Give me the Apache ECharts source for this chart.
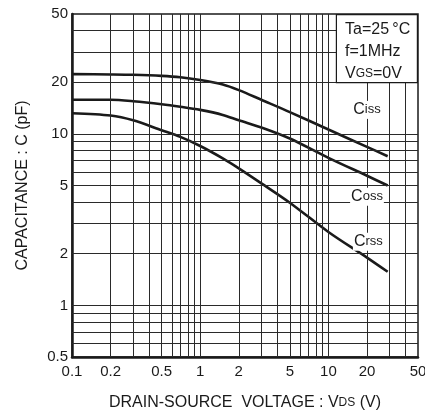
<!DOCTYPE html>
<html>
<head>
<meta charset="utf-8">
<script src="https://cdn.jsdelivr.net/npm/echarts@6/dist/echarts.min.js"></script>
<style>
  html, body { margin: 0; padding: 0; background: #fff; }
  #chart { width: 425px; height: 418px; }
</style>
</head>
<body>
<div id="chart"></div>
<script>
// drain-source voltage (V)
var voltage = [0.1, 0.2, 0.3, 0.5, 0.7, 1, 1.5, 2, 3, 5, 10, 20, 29];
// capacitances (pF)
var ciss = [22.3, 22.2, 22.1, 21.8, 21.4, 20.6, 19.4, 18.0, 15.8, 13.4, 10.6, 8.4, 7.4];
var coss = [15.8, 15.8, 15.5, 14.9, 14.4, 13.8, 12.9, 12.0, 10.9, 9.4, 7.25, 5.7, 5.0];
var crss = [13.2, 12.8, 12.0, 10.5, 9.6, 8.5, 7.2, 6.3, 5.15, 3.97, 2.68, 1.9, 1.57];

// grid lines and tick labels
var gridX = [0.2, 0.3, 0.4, 0.5, 0.6, 0.7, 0.8, 0.9, 1, 2, 3, 4, 5, 6, 7, 8, 9, 10, 20, 30, 40];
var gridY = [0.6, 0.7, 0.8, 0.9, 1, 2, 3, 4, 5, 6, 7, 8, 9, 10, 20, 30, 40];
var tickX = [0.1, 0.2, 0.5, 1, 2, 5, 10, 20, 50];
var tickY = [0.5, 1, 2, 5, 10, 20, 50];

// curve labels: [voltage, capacitance]
var labelCiss = [20, 13.8];
var labelCoss = [20, 4.3];
var labelCrss = [20.5, 2.35];

var FONT = 'Liberation Sans, Arial, sans-serif';
var INK = '#1a1a1a';

function pairs(xs, ys) {
  return xs.map(function(x, i) { return [x, ys[i]]; });
}

var gridLines = [];
gridX.forEach(function(v) { gridLines.push({ xAxis: v }); });
gridY.forEach(function(v) { gridLines.push({ yAxis: v }); });
// label-only lines (no visible stroke)
tickX.forEach(function(v) {
  gridLines.push({ xAxis: v, lineStyle: { width: 0, color: 'rgba(0,0,0,0)' },
    label: { show: true, position: 'start', distance: 7, formatter: String(v) } });
});
tickY.forEach(function(v) {
  gridLines.push({ yAxis: v, lineStyle: { width: 0, color: 'rgba(0,0,0,0)' },
    label: { show: true, position: 'start', distance: 4, formatter: String(v) } });
});

function curveLabel(pos, sub) {
  return {
    symbol: 'rect',
    symbolSize: 0,
    silent: true,
    data: [{ coord: pos }],
    label: {
      show: true,
      position: 'inside',
      formatter: '{c|C}{s|' + sub + '}',
      backgroundColor: '#fff',
      padding: [1, 1],
      rich: {
        c: { fontSize: 16, fontFamily: FONT, color: INK },
        s: { fontSize: 13, fontFamily: FONT, color: INK }
      }
    }
  };
}

function curve(name, ys, lbl, sub) {
  return {
    name: name,
    type: 'line',
    data: pairs(voltage, ys),
    smooth: 0.3,
    symbol: 'none',
    z: 3,
    lineStyle: { color: INK, width: 2.6 },
    markPoint: curveLabel(lbl, sub)
  };
}

var myChart = echarts.init(document.getElementById('chart'));

var option = {
  animation: false,
  textStyle: { fontFamily: FONT },
  grid: {
    left: 72, right: 7, top: 14, bottom: 61,
    show: true,
    borderColor: INK,
    borderWidth: 1.5
  },
  xAxis: {
    type: 'log',
    logBase: 10,
    min: 0.1,
    max: 50,
    name: 'DRAIN-SOURCE  VOLTAGE : V{s|DS} (V)',
    nameLocation: 'middle',
    nameGap: 38,
    nameTextStyle: {
      fontSize: 16, fontFamily: FONT, color: INK,
      rich: { s: { fontSize: 12, fontFamily: FONT, color: INK } }
    },
    axisLine: { show: true, lineStyle: { color: INK, width: 2.5 } },
    axisTick: { show: false },
    axisLabel: { show: false },
    splitLine: { show: false }
  },
  yAxis: {
    type: 'log',
    logBase: 10,
    min: 0.5,
    max: 50,
    name: 'CAPACITANCE : C (pF)',
    nameLocation: 'middle',
    nameGap: 41,
    nameTextStyle: { fontSize: 16, fontFamily: FONT, color: INK },
    axisLine: { show: true, lineStyle: { color: INK, width: 2.5 } },
    axisTick: { show: false },
    axisLabel: { show: false },
    splitLine: { show: false }
  },
  graphic: [{
    type: 'rect',
    right: 7,
    top: 14,
    z: 10,
    shape: { width: 81, height: 68 },
    style: { fill: '#fff', stroke: INK, lineWidth: 1.2 }
  }, {
    type: 'text',
    left: 345,
    top: 19,
    z: 11,
    style: {
      text: 'Ta=25\u2009°C\nf=1MHz\nV{s|GS}=0V',
      font: '16px ' + FONT,
      fill: INK,
      lineHeight: 22,
      rich: {
        s: { fontSize: 12, fontFamily: FONT, fill: INK, lineHeight: 22 }
      }
    }
  }],
  series: [{
    type: 'line',
    data: [],
    z: 1,
    silent: true,
    clip: false,
    markLine: {
      silent: true,
      symbol: ['none', 'none'],
      animation: false,
      lineStyle: { color: '#2a2a2a', width: 1, type: 'solid' },
      label: { show: false, fontSize: 15, fontFamily: FONT, color: INK },
      emphasis: { disabled: true },
      data: gridLines
    }
  },
    curve('Ciss', ciss, labelCiss, 'iss'),
    curve('Coss', coss, labelCoss, 'oss'),
    curve('Crss', crss, labelCrss, 'rss')
  ]
};

myChart.setOption(option);
</script>
</body>
</html>
